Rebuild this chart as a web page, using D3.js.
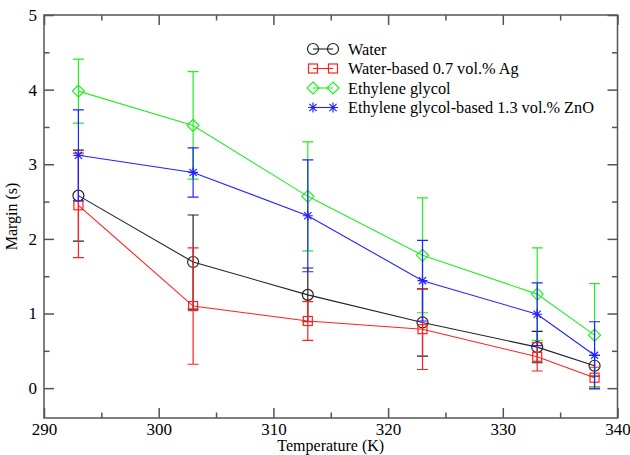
<!DOCTYPE html>
<html>
<head>
<meta charset="utf-8">
<script src="https://cdn.jsdelivr.net/npm/d3@7"></script>
<style>
  body { margin: 0; background: #fff; }
</style>
</head>
<body>
<div class="canvas"></div>
<script>
// data
const temps = [293, 303, 313, 323, 333, 338];
const water = [2.58, 1.69, 1.25, 0.88, 0.55, 0.30];
const waterErr = [0.61, 0.63, 0.36, 0.45, 0.21, 0.14];
const waterAg = [2.45, 1.10, 0.90, 0.79, 0.42, 0.14];
const waterAgErr = [0.70, 0.78, 0.26, 0.54, 0.19, 0.14];
const glycol = [3.98, 3.52, 2.57, 1.78, 1.26, 0.71];
const glycolErr = [0.43, 0.72, 0.73, 0.77, 0.62, 0.69];
const glycolZnO = [3.12, 2.89, 2.31, 1.44, 0.99, 0.44];
const glycolZnOErr = [0.61, 0.33, 0.75, 0.54, 0.42, 0.45];

const seriesNames = ['Water', 'Water-based 0.7 vol.% Ag', 'Ethylene glycol', 'Ethylene glycol-based 1.3 vol.% ZnO'];
const xTicks = [290, 300, 310, 320, 330, 340];
const yTicks = [0, 1, 2, 3, 4, 5];

const series = [
  {name: seriesNames[0], values: water, err: waterErr, color: '#222', shape: 'circle'},
  {name: seriesNames[1], values: waterAg, err: waterAgErr, color: '#ff2020', shape: 'square'},
  {name: seriesNames[2], values: glycol, err: glycolErr, color: '#22ee22', shape: 'diamond'},
  {name: seriesNames[3], values: glycolZnO, err: glycolZnOErr, color: '#2222ff', shape: 'star'}
];

const serif = '"Liberation Serif", "Times New Roman", Tinos, "DejaVu Serif", serif';

const svg = d3.select('.canvas')
    .append('svg')
    .attr('width', 630)
    .attr('height', 455);

// plot frame in pixels
const frame = {left: 44, right: 617.5, top: 15, bottom: 418};

const x = d3.scaleLinear().domain([290, 340]).range([frame.left, frame.right]);
const y = d3.scaleLinear().domain([-0.4, 5]).range([frame.bottom, frame.top]);

// ticks on all four sides, pointing in
function tickAxis(axis, scale, values, size, labels, pad) {
  return axis(scale).tickValues(values).tickSize(-size).tickPadding(pad)
      .tickFormat(labels ? d3.format('d') : '');
}
const axes = [
  {fn: d3.axisBottom, s: x, t: `translate(0,${frame.bottom})`, major: xTicks, minor: d3.range(295, 340, 10), lab: true, pad: 5},
  {fn: d3.axisTop, s: x, t: `translate(0,${frame.top})`, major: xTicks, minor: d3.range(295, 340, 10), lab: false, pad: 5},
  {fn: d3.axisLeft, s: y, t: `translate(${frame.left},0)`, major: yTicks, minor: d3.range(0.5, 5, 1), lab: true, pad: 7},
  {fn: d3.axisRight, s: y, t: `translate(${frame.right},0)`, major: yTicks, minor: d3.range(0.5, 5, 1), lab: false, pad: 7}
];
axes.forEach(a => {
  const gMaj = svg.append('g').attr('transform', a.t).call(tickAxis(a.fn, a.s, a.major, 10, a.lab, a.pad));
  const gMin = svg.append('g').attr('transform', a.t).call(tickAxis(a.fn, a.s, a.minor, 5.5, false, a.pad));
  [gMaj, gMin].forEach(g => {
    g.select('.domain').remove();
    g.attr('font-family', serif).attr('font-size', 17);
    g.selectAll('line').attr('stroke', '#555').attr('stroke-width', 1.5);
    g.selectAll('text').attr('fill', '#000');
  });
});

svg.append('rect')
    .attr('x', frame.left).attr('y', frame.top)
    .attr('width', frame.right - frame.left).attr('height', frame.bottom - frame.top)
    .attr('fill', 'none').attr('stroke', '#555').attr('stroke-width', 1.5);

// axis titles
svg.append('text')
    .attr('x', (frame.left + frame.right) / 2).attr('y', 451)
    .attr('text-anchor', 'middle')
    .attr('font-family', serif).attr('font-size', 16)
    .text('Temperature (K)');
svg.append('text')
    .attr('transform', `translate(17,${(frame.top + frame.bottom) / 2}) rotate(-90)`)
    .attr('text-anchor', 'middle')
    .attr('font-family', serif).attr('font-size', 16)
    .text('Margin (s)');

function marker(g, shape, color, cx, cy) {
  if (shape === 'circle') {
    g.append('circle').attr('cx', cx).attr('cy', cy).attr('r', 5.5)
        .attr('fill', 'none').attr('stroke', color).attr('stroke-width', 1.2);
  } else if (shape === 'square') {
    g.append('rect').attr('x', cx - 4.5).attr('y', cy - 4.5).attr('width', 9).attr('height', 9)
        .attr('fill', 'none').attr('stroke', color).attr('stroke-width', 1.2);
  } else if (shape === 'diamond') {
    g.append('path').attr('d', `M${cx},${cy - 6}L${cx + 6},${cy}L${cx},${cy + 6}L${cx - 6},${cy}Z`)
        .attr('fill', 'none').attr('stroke', color).attr('stroke-width', 1.2);
  } else {
    const r = 5;
    const d = r * 0.72;
    g.append('path')
        .attr('d', `M${cx - r},${cy}H${cx + r}M${cx},${cy - r}V${cy + r}` +
                   `M${cx - d},${cy - d}L${cx + d},${cy + d}M${cx - d},${cy + d}L${cx + d},${cy - d}`)
        .attr('stroke', color).attr('stroke-width', 1.2);
  }
}

const line = d3.line().x((d, i) => x(temps[i])).y(d => y(d));

series.forEach(s => {
  const g = svg.append('g');
  g.append('path').datum(s.values)
      .attr('d', line)
      .attr('fill', 'none')
      .attr('stroke', s.color)
      .attr('stroke-width', 1.1);
  s.values.forEach((v, i) => marker(g, s.shape, s.color, x(temps[i]), y(v)));
  // error bars
  s.values.forEach((v, i) => {
    const cx = x(temps[i]);
    const y1 = y(v + s.err[i]), y0 = y(v - s.err[i]);
    g.append('path')
        .attr('d', `M${cx},${y1}V${y0}M${cx - 5.5},${y1}H${cx + 5.5}M${cx - 5.5},${y0}H${cx + 5.5}`)
        .attr('fill', 'none')
        .attr('stroke', s.color)
        .attr('stroke-width', 1.2);
  });
});

// legend
const legend = svg.append('g');
series.forEach((s, i) => {
  const ly = 49 + i * 19.5;
  legend.append('line')
      .attr('x1', 313).attr('x2', 333).attr('y1', ly).attr('y2', ly)
      .attr('stroke', s.color).attr('stroke-width', 1.1);
  marker(legend, s.shape, s.color, 313, ly);
  marker(legend, s.shape, s.color, 333, ly);
  legend.append('text')
      .attr('x', 348).attr('y', ly + 5.5)
      .attr('font-family', serif).attr('font-size', 16.3)
      .text(s.name);
});
</script>
</body>
</html>
